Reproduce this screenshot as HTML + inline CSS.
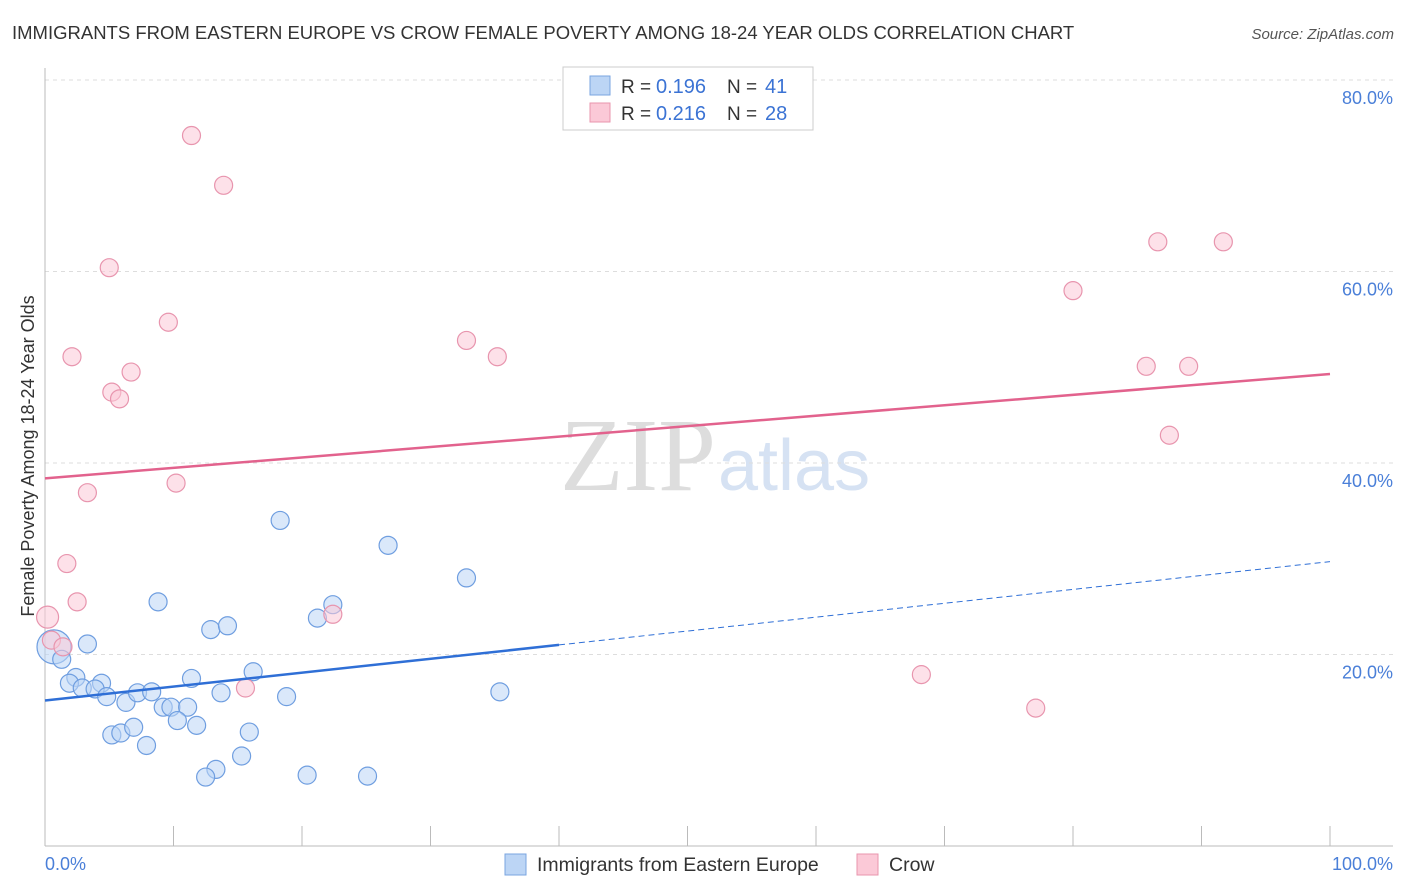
<!DOCTYPE html>
<html><head><meta charset="utf-8"><style>
body{margin:0;background:#fff;font-family:"Liberation Sans",sans-serif;}
svg{display:block}
</style></head><body>
<svg id="chart" width="1406" height="892">
<text x="12" y="39" font-size="18.5" fill="#333">IMMIGRANTS FROM EASTERN EUROPE VS CROW FEMALE POVERTY AMONG 18-24 YEAR OLDS CORRELATION CHART</text>
<text x="1394" y="39" font-size="15" fill="#555" font-style="italic" text-anchor="end">Source: ZipAtlas.com</text>
<text x="716" y="490" font-size="104" fill="#ddd" text-anchor="end" font-family="Liberation Serif">ZIP</text>
<text x="718" y="490" font-size="72" fill="#d6e2f3">atlas</text>
<text transform="translate(34,456) rotate(-90)" font-size="18" fill="#333" text-anchor="middle">Female Poverty Among 18-24 Year Olds</text>
<g id="grid"></g><g id="axes"></g><g id="marks"></g>
<g>
<rect x="563" y="67" width="250" height="63" fill="#fff" stroke="#ccc"/>
<rect x="590" y="76" width="20" height="19" fill="#bcd5f5" stroke="#7aa5e0"/>
<text x="621" y="93" font-size="19" fill="#333">R = </text>
<text x="656" y="93" font-size="20" fill="#3b73d4">0.196</text>
<text x="727" y="93" font-size="19" fill="#333">N = </text>
<text x="765" y="93" font-size="20" fill="#3b73d4">41</text>
<rect x="590" y="103" width="20" height="19" fill="#fbc9d7" stroke="#e895ae"/>
<text x="621" y="120" font-size="19" fill="#333">R = </text>
<text x="656" y="120" font-size="20" fill="#3b73d4">0.216</text>
<text x="727" y="120" font-size="19" fill="#333">N = </text>
<text x="765" y="120" font-size="20" fill="#3b73d4">28</text>
</g>
<g>
<rect x="505" y="854" width="21" height="21" fill="#bcd5f5" stroke="#7aa5e0"/>
<text x="537" y="871" font-size="19.5" fill="#333">Immigrants from Eastern Europe</text>
<rect x="857" y="854" width="21" height="21" fill="#fbc9d7" stroke="#e895ae"/>
<text x="889" y="871" font-size="19.5" fill="#333">Crow</text>
</g>
</svg>
<script>
const blueX=[8.8,3.3,12.9,14.2,21.2,22.4,0.7,1.3,2.4,1.9,2.9,4.4,3.9,4.8,6.3,7.2,8.3,11.4,16.2,13.7,18.8,9.2,9.8,11.1,10.3,11.8,5.2,5.9,6.9,7.9,15.9,15.3,13.3,12.5,20.4,25.1,18.3,26.7,32.8,35.4];
const blueY=[25.5,21.1,22.6,23.0,23.8,25.2,20.8,19.5,17.6,17.0,16.5,17.0,16.4,15.6,15.0,16.0,16.1,17.5,18.2,16.0,15.6,14.5,14.5,14.5,13.1,12.6,11.6,11.8,12.4,10.5,11.9,9.4,8.0,7.2,7.4,7.3,34.0,31.4,28.0,16.1];
const pinkX=[0.2,0.5,1.4,2.5,1.7,3.3,10.2,2.1,5.0,11.4,13.9,9.6,6.7,5.2,5.8,32.8,35.2,22.4,15.6,68.2,77.1,80.0,85.7,89.0,87.5,86.6,91.7];
const pinkY=[23.9,21.5,20.8,25.5,29.5,36.9,37.9,51.1,60.4,74.2,69.0,54.7,49.5,47.4,46.7,52.8,51.1,24.2,16.5,17.9,14.4,58.0,50.1,50.1,42.9,63.1,63.1];
const blueTrend=[15.2,29.7];
const pinkTrend=[38.4,49.3];
const yTicks=[20,40,60,80];
const xTicks=[0,10,20,30,40,50,60,70,80,90,100];
const NS='http://www.w3.org/2000/svg';
const sx=v=>45+v*12.85, sy=v=>846-v*9.575;
function mk(parent,tag,attrs){const e=document.createElementNS(NS,tag);for(const k in attrs)e.setAttribute(k,attrs[k]);document.getElementById(parent).appendChild(e);return e;}
yTicks.forEach(t=>{
 const l=mk('grid','line',{x1:45,x2:1393,y1:sy(t),y2:sy(t),stroke:'#ddd','stroke-dasharray':'4,4'});
 
 
 const tx=mk('grid','text',{x:1393,y:sy(t)+24,'font-size':18,fill:'#4a7fd8','text-anchor':'end'});
 tx.textContent=t.toFixed(1)+'%';
 
 
});
mk('axes','line',{x1:45,x2:45,y1:68,y2:846,stroke:'#bbb'});
mk('axes','line',{x1:45,x2:1393,y1:846,y2:846,stroke:'#bbb'});
xTicks.forEach(t=>{
 const l=mk('axes','line',{x1:sx(t),x2:sx(t),y1:826,y2:846,stroke:'#bbb'});
 
 
});
const x0=mk('axes','text',{x:45,y:870,'font-size':18,fill:'#4a7fd8'});x0.textContent='0.0%';


const x1=mk('axes','text',{x:1393,y:870,'font-size':18,fill:'#4a7fd8','text-anchor':'end'});x1.textContent='100.0%';


function dots(xs,ys,fill,stroke,name,big){xs.forEach((x,i)=>{
 const r=(big&&i===6)?17:(x<0.5?11:9);
 const c=mk('marks','circle',{cx:sx(x),cy:sy(ys[i]),r:r,fill:fill,'fill-opacity':0.55,stroke:stroke,'stroke-width':1.2});
 
 
});}
dots(blueX,blueY,'#bcd5f5','#6f9ee0','blue-point',true);
dots(pinkX,pinkY,'#fbc9d7','#e895ae','pink-point',false);
const bm=blueTrend[0]+(blueTrend[1]-blueTrend[0])*0.4;
const b1=mk('marks','line',{x1:sx(0),y1:sy(blueTrend[0]),x2:sx(40),y2:sy(bm),stroke:'#2f6fd6','stroke-width':2.5});


const b2=mk('marks','line',{x1:sx(40),y1:sy(bm),x2:sx(100),y2:sy(blueTrend[1]),stroke:'#2f6fd6','stroke-width':1,'stroke-dasharray':'6,4'});


const p1=mk('marks','line',{x1:sx(0),y1:sy(pinkTrend[0]),x2:sx(100),y2:sy(pinkTrend[1]),stroke:'#e2628d','stroke-width':2.5});


</script>
</body></html>
